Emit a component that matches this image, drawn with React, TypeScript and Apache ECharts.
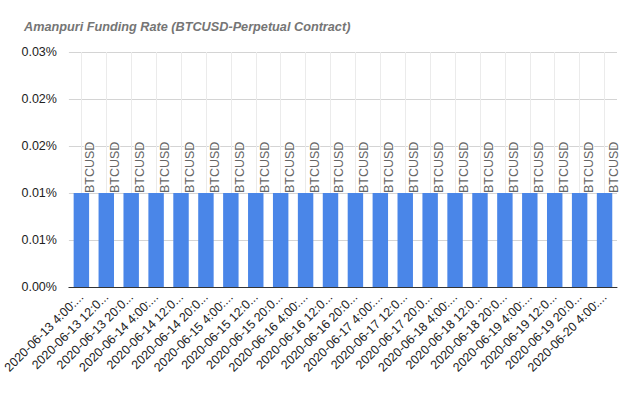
import React, { useEffect, useRef } from "react";
import * as echarts from "echarts";

const categories = [
  "2020-06-13 4:00:00", "2020-06-13 12:00:00", "2020-06-13 20:00:00",
  "2020-06-14 4:00:00", "2020-06-14 12:00:00", "2020-06-14 20:00:00",
  "2020-06-15 4:00:00", "2020-06-15 12:00:00", "2020-06-15 20:00:00",
  "2020-06-16 4:00:00", "2020-06-16 12:00:00", "2020-06-16 20:00:00",
  "2020-06-17 4:00:00", "2020-06-17 12:00:00", "2020-06-17 20:00:00",
  "2020-06-18 4:00:00", "2020-06-18 12:00:00", "2020-06-18 20:00:00",
  "2020-06-19 4:00:00", "2020-06-19 12:00:00", "2020-06-19 20:00:00",
  "2020-06-20 4:00:00",
];
const fundingRate = [
  0.01, 0.01, 0.01, 0.01, 0.01, 0.01, 0.01, 0.01, 0.01, 0.01, 0.01,
  0.01, 0.01, 0.01, 0.01, 0.01, 0.01, 0.01, 0.01, 0.01, 0.01, 0.01,
];
const barLabel = "BTCUSD";
const yTickLabels = ["0.00%", "0.01%", "0.01%", "0.02%", "0.02%", "0.03%"];
const yStep = 0.005;

const FONT = "'Liberation Sans', Arial, sans-serif";

export default function App() {
  const ref = useRef<HTMLDivElement>(null);
  useEffect(() => {
    if (!ref.current) return;
    const chart = echarts.init(ref.current, null, { renderer: "svg" });
    chart.setOption({
      animation: false,
      backgroundColor: "#ffffff",
      title: {
        text: "Amanpuri Funding Rate (BTCUSD-Perpetual Contract)",
        left: 19,
        top: 15,
        textStyle: {
          fontFamily: FONT,
          fontSize: 12.7,
          fontWeight: "bold",
          fontStyle: "italic",
          color: "#757575",
        },
      },
      grid: { left: 67, right: 23, top: 52, bottom: 109 },
      xAxis: {
        type: "category",
        data: categories,
        axisLine: { lineStyle: { color: "#333333", width: 1 } },
        axisTick: { show: false },
        splitLine: { show: true, alignWithLabel: true, lineStyle: { color: "#ebebeb" } },
        axisLabel: {
          interval: 0,
          rotate: 45,
          fontFamily: FONT,
          fontSize: 12.5,
          color: "#222222",
          width: 108,
          overflow: "truncate",
          ellipsis: "...",
          margin: 8,
        },
      },
      yAxis: {
        type: "value",
        min: 0,
        max: 0.025,
        interval: yStep,
        axisLine: { show: false },
        axisTick: { show: false },
        splitLine: { lineStyle: { color: "#d4d4d4" } },
        axisLabel: {
          fontFamily: FONT,
          fontSize: 12.5,
          color: "#222222",
          margin: 12,
          formatter: (v: number) => yTickLabels[Math.round(v / yStep)] ?? "",
        },
      },
      series: [
        {
          type: "bar",
          data: fundingRate,
          barWidth: "62%",
          itemStyle: { color: "#4a86e8" },
          label: {
            show: true,
            formatter: barLabel,
            position: "top",
            rotate: 90,
            align: "left",
            verticalAlign: "middle",
            distance: 0,
            offset: [0, 9],
            fontFamily: FONT,
            fontSize: 12.5,
            color: "#666666",
            textBorderColor: "#ffffff",
            textBorderWidth: 2,
          },
        },
      ],
    });
    return () => chart.dispose();
  }, []);
  return (
    <div
      ref={ref}
      style={{ position: "fixed", left: 0, top: 0, width: 640, height: 396 }}
    />
  );
}
